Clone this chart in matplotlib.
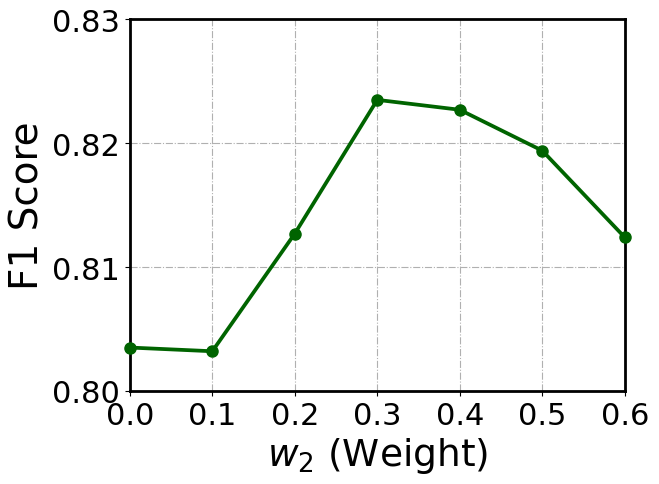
import matplotlib
matplotlib.use("Agg")
import matplotlib.pyplot as plt

w2 = [0.0, 0.1, 0.2, 0.3, 0.4, 0.5, 0.6]
f1 = [0.8035, 0.8032, 0.8127, 0.8235, 0.8227, 0.8194, 0.8124]
xticks = [0.0, 0.1, 0.2, 0.3, 0.4, 0.5, 0.6]
yticks = [0.80, 0.81, 0.82, 0.83]

fig, ax = plt.subplots(figsize=(6.59, 4.85), dpi=100)
ax.plot(w2, f1, color='#006400', marker='o', linewidth=2.7, markersize=8, clip_on=False, zorder=3)
ax.set_xlim(0.0, 0.6)
ax.set_ylim(0.80, 0.83)
ax.set_xticks(xticks)
ax.set_xticklabels([f"{v:.1f}" for v in xticks])
ax.set_yticks(yticks)
ax.set_yticklabels([f"{v:.2f}" for v in yticks])
ax.tick_params(labelsize=22)
ax.grid(True, linestyle='-.', color='#b0b0b0', linewidth=0.8)
for s in ax.spines.values():
    s.set_linewidth(2)
ax.set_xlabel(r"$w_2$ (Weight)", fontsize=27)
ax.set_ylabel("F1 Score", fontsize=28)
fig.subplots_adjust(left=0.197, right=0.948, top=0.958, bottom=0.192)
fig.savefig("out.png", dpi=100)
